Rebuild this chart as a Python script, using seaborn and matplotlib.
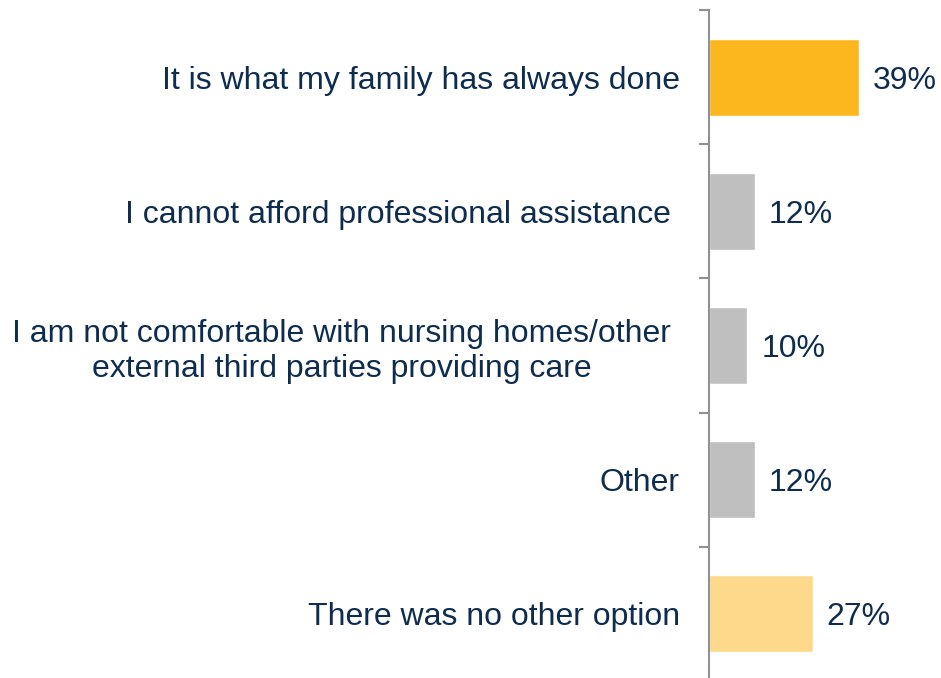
import numpy as np
import pandas as pd
import matplotlib
matplotlib.use('Agg')
import matplotlib.pyplot as plt
import seaborn as sns
from matplotlib.ticker import FixedLocator

# data
reasons = ['It is what my family has always done',
           'I cannot afford professional assistance ',
           'I am not comfortable with nursing homes/other \nexternal third parties providing care ',
           'Other',
           'There was no other option']
shares = [39, 12, 10, 12, 27]
bar_colors = ['#FDB71E', '#BFBFBF', '#BFBFBF', '#BFBFBF', '#FED98B']

navy = '#0E2D4E'
axis_grey = '#8E9198'

sns.set_theme(style='white')
plt.rcParams['font.family'] = ['Liberation Sans', 'DejaVu Sans']

df = pd.DataFrame({'reason': reasons, 'share': shares})

fig = plt.figure(figsize=(9.41, 6.78), dpi=100)
ax = fig.add_axes([709 / 941, -3 / 678, 1 - 709 / 941, 671 / 678])

sns.barplot(data=df, y='reason', x='share', hue='reason', palette=bar_colors,
            width=0.575, saturation=1, legend=False, orient='h', ax=ax)

ax.set_xlim(0, 60.5)
ax.set_ylim(4.5, -0.5)
ax.set_xlabel('')
ax.set_ylabel('')
ax.set_xticks([])

for side in ['top', 'right', 'bottom']:
    ax.spines[side].set_visible(False)
ax.spines['left'].set_color(axis_grey)
ax.spines['left'].set_linewidth(1.5)

# category labels
ax.tick_params(axis='y', which='major', length=0, pad=21, labelsize=23, labelcolor=navy)
ax.yaxis.set_minor_locator(FixedLocator(np.arange(-0.5, 5, 1)))
ax.tick_params(axis='y', which='minor', length=7.5, width=1.5, color=axis_grey, left=True)
for lab in ax.get_yticklabels():
    lab.set_multialignment('center')

# value labels
for cont in ax.containers:
    txts = ax.bar_label(cont, labels=[f'{v:.0f}%' for v in cont.datavalues],
                        padding=10, fontsize=23, color=navy)
    for t in txts:
        t.set_verticalalignment('center_baseline')

fig.savefig('out.png', dpi=100)
